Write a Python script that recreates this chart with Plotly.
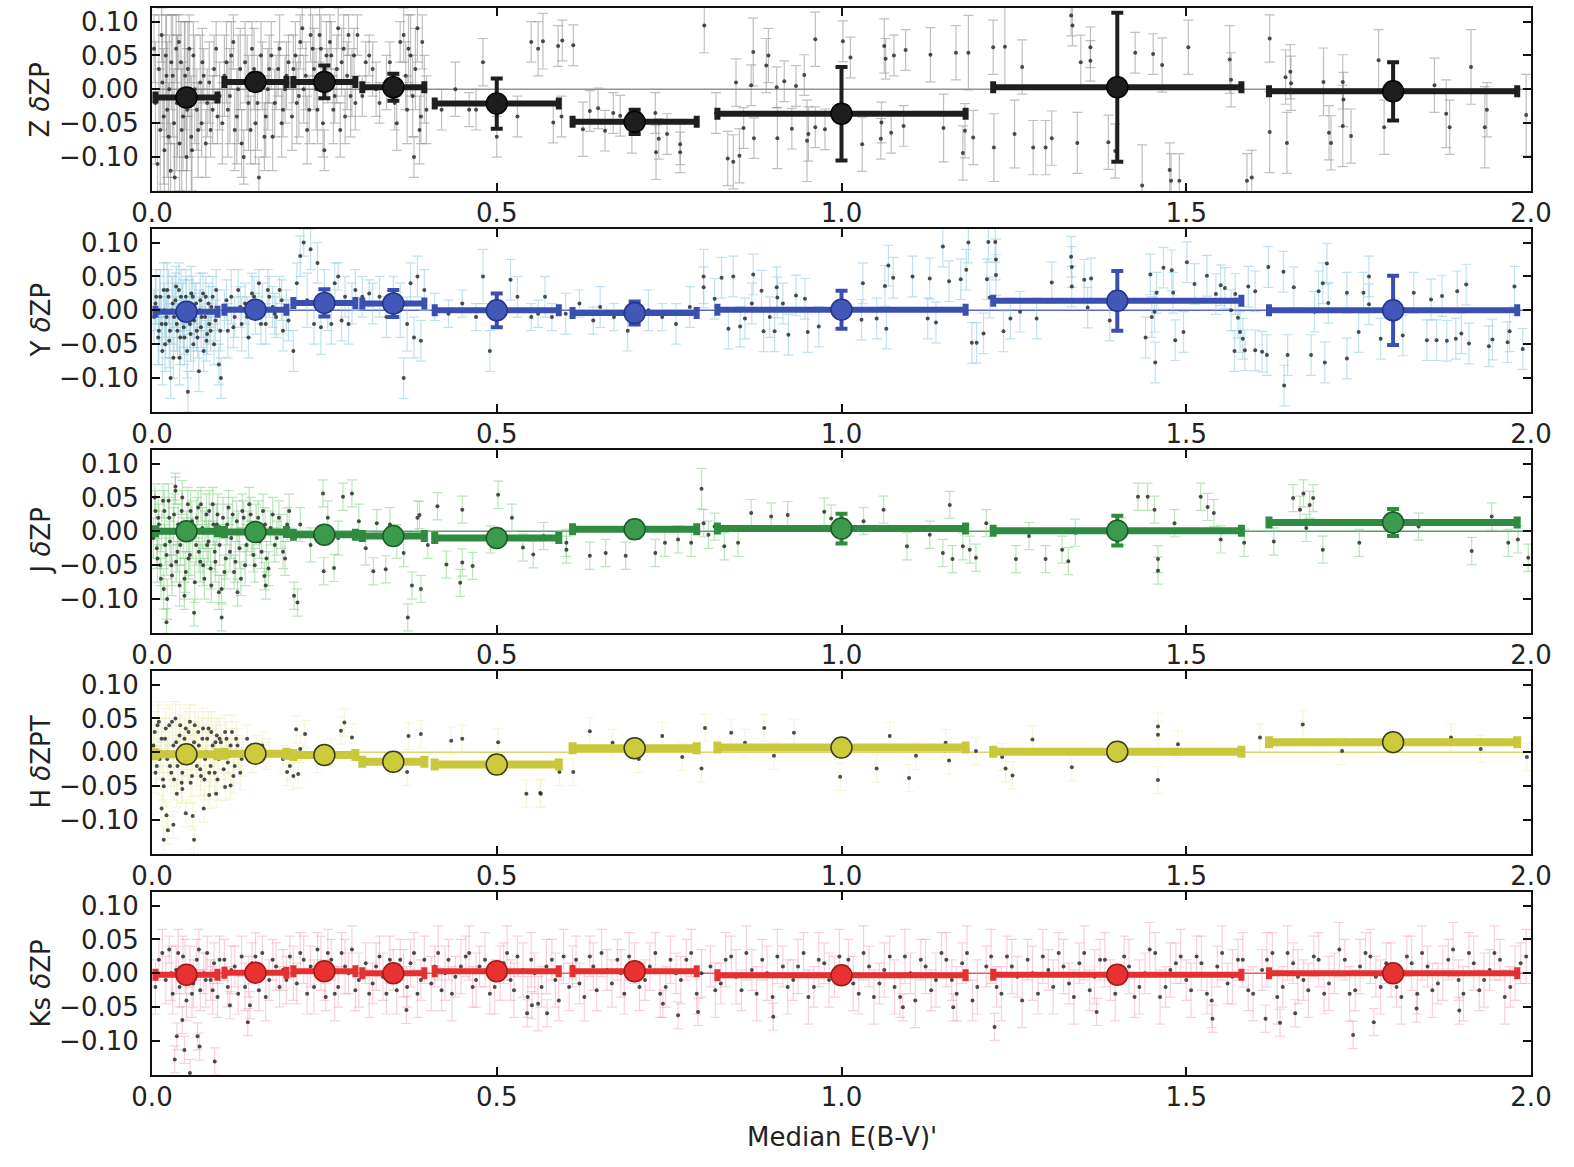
import plotly.graph_objects as go

# ---------------- data ----------------
bin_x = [0.05, 0.15, 0.25, 0.35, 0.5, 0.7, 1.0, 1.4, 1.8]
bin_xerr = [0.045, 0.045, 0.045, 0.045, 0.09, 0.09, 0.18, 0.18, 0.18]

Z_bin = [-0.012, 0.011, 0.011, 0.003, -0.021, -0.048, -0.036, 0.003, -0.003]
Z_bin_err = [0.010, 0.012, 0.024, 0.020, 0.037, 0.018, 0.069, 0.110, 0.043]
Y_bin = [-0.002, 0.001, 0.011, 0.010, 0.000, -0.004, 0.001, 0.014, 0.000]
Y_bin_err = [0.006, 0.006, 0.020, 0.020, 0.025, 0.017, 0.028, 0.044, 0.051]
J_bin = [0.000, -0.001, -0.005, -0.007, -0.010, 0.003, 0.004, 0.001, 0.013]
J_bin_err = [0.004, 0.004, 0.005, 0.005, 0.006, 0.012, 0.022, 0.022, 0.020]
H_bin = [-0.003, -0.002, -0.004, -0.014, -0.018, 0.006, 0.007, 0.001, 0.015]
H_bin_err = [0.012, 0.006, 0.006, 0.006, 0.012, 0.006, 0.008, 0.008, 0.006]
K_bin = [-0.002, 0.001, 0.003, 0.000, 0.003, 0.003, -0.003, -0.002, 0.000]
K_bin_err = [0.004, 0.004, 0.004, 0.004, 0.004, 0.004, 0.004, 0.004, 0.004]

# individual fields: (E(B-V), dZP, error)
Z_pts = [
    (0.005,-0.02,0.09),(0.01,0.03,0.08),(0.012,-0.06,0.09),(0.015,0.01,0.07),(0.018,-0.09,0.08),
    (0.02,0.05,0.06),(0.022,-0.03,0.10),(0.025,0.0,0.08),(0.027,-0.12,0.07),(0.03,0.02,0.09),
    (0.032,-0.05,0.08),(0.035,0.06,0.05),(0.037,-0.01,0.09),(0.04,-0.08,0.07),(0.042,0.04,0.06),
    (0.045,-0.04,0.08),(0.047,0.0,0.10),(0.05,-0.10,0.06),(0.052,0.03,0.07),(0.055,-0.02,0.08),
    (0.057,-0.07,0.09),(0.06,0.05,0.05),(0.065,-0.03,0.06),(0.07,0.01,0.07),(0.072,-0.05,0.05),
    (0.075,0.02,0.04),(0.08,-0.02,0.05),(0.085,-0.06,0.04),(0.09,0.03,0.05),(0.095,-0.04,0.04),
    (0.105,0.02,0.06),(0.11,-0.03,0.07),(0.115,0.05,0.05),(0.12,-0.06,0.06),(0.125,0.0,0.08),
    (0.13,-0.08,0.05),(0.135,0.04,0.06),(0.14,-0.02,0.07),(0.145,0.06,0.04),(0.15,-0.05,0.06),
    (0.155,-0.13,0.03),(0.16,0.02,0.05),(0.165,-0.04,0.06),(0.17,0.03,0.05),(0.175,-0.07,0.05),
    (0.18,0.01,0.04),(0.185,0.06,0.05),(0.19,-0.03,0.04),(0.195,0.02,0.05),
    (0.205,0.03,0.05),(0.21,-0.02,0.06),(0.215,0.07,0.04),(0.22,0.0,0.05),(0.225,-0.06,0.05),
    (0.23,0.08,0.04),(0.235,0.03,0.06),(0.24,-0.03,0.05),(0.245,0.06,0.05),(0.25,-0.09,0.03),
    (0.255,0.02,0.04),(0.26,0.05,0.05),(0.265,-0.01,0.04),(0.27,0.09,0.03),(0.275,0.04,0.05),
    (0.28,-0.04,0.04),(0.285,0.08,0.03),(0.29,0.01,0.05),(0.295,-0.02,0.04),
    (0.31,0.04,0.03),(0.32,0.03,0.04),(0.33,-0.02,0.03),(0.34,0.01,0.04),(0.355,-0.05,0.04),
    (0.36,0.07,0.03),(0.365,0.08,0.04),(0.37,-0.03,0.05),(0.375,0.05,0.06),(0.38,-0.10,0.03),
    (0.385,0.09,0.05),(0.39,-0.04,0.04),(0.395,0.0,0.05),
    (0.003,0.06,0.05),(0.008,-0.11,0.06),(0.014,0.08,0.04),(0.017,-0.04,0.10),(0.021,0.02,0.09),
    (0.024,-0.07,0.08),(0.028,0.04,0.07),(0.033,-0.13,0.05),(0.036,-0.02,0.1),(0.039,0.07,0.04),
    (0.043,-0.06,0.09),(0.048,0.02,0.08),(0.051,-0.03,0.09),(0.054,0.06,0.05),(0.058,-0.09,0.06),
    (0.062,0.0,0.08),(0.067,-0.06,0.07),(0.073,0.04,0.05),(0.078,-0.08,0.05),(0.083,0.01,0.06),
    (0.088,-0.03,0.05),(0.093,0.06,0.04),(0.098,-0.01,0.05),
    (0.102,-0.05,0.06),(0.108,0.04,0.06),(0.113,-0.01,0.07),(0.118,0.07,0.04),(0.123,-0.04,0.07),
    (0.128,0.03,0.06),(0.133,-0.1,0.04),(0.138,0.01,0.07),(0.143,-0.06,0.05),(0.148,0.03,0.06),
    (0.153,-0.02,0.07),(0.158,0.05,0.05),(0.163,-0.07,0.05),(0.168,0.0,0.06),(0.173,0.05,0.05),
    (0.178,-0.02,0.05),(0.183,0.03,0.04),(0.188,-0.05,0.05),(0.193,0.0,0.05),(0.198,0.04,0.04),
    (0.203,-0.04,0.05),(0.208,0.05,0.05),(0.213,-0.01,0.06),(0.218,0.09,0.03),(0.223,0.02,0.05),
    (0.228,-0.03,0.05),(0.233,0.06,0.05),(0.238,0.0,0.06),(0.243,0.08,0.04),(0.248,-0.05,0.05),
    (0.253,0.05,0.05),(0.258,0.07,0.04),(0.263,-0.03,0.05),(0.268,0.03,0.05),(0.273,-0.06,0.04),
    (0.278,0.06,0.05),(0.283,0.02,0.05),(0.288,-0.01,0.06),(0.293,0.05,0.04),(0.298,0.08,0.03),
    (0.305,-0.01,0.03),(0.315,0.05,0.03),(0.325,0.0,0.04),(0.345,0.04,0.03),(0.352,-0.02,0.04),
    (0.368,0.02,0.05),(0.372,0.06,0.05),(0.378,-0.01,0.06),(0.382,0.03,0.06),(0.388,-0.06,0.05),
    (0.392,0.07,0.04),(0.398,-0.03,0.05),
    (0.42,-0.03,0.03),(0.44,0.0,0.04),(0.46,-0.03,0.025),(0.47,-0.03,0.03),(0.48,0.04,0.035),
    (0.5,-0.07,0.03),(0.53,-0.04,0.03),(0.55,0.07,0.03),(0.56,0.06,0.04),(0.567,0.071,0.041),
    (0.589,0.064,0.03),(0.595,0.072,0.03),(0.611,0.065,0.03),(0.582,-0.049,0.03),(0.594,-0.04,0.03),
    (0.625,-0.059,0.04),(0.635,-0.032,0.03),(0.647,-0.028,0.03),(0.657,-0.061,0.03),(0.669,-0.035,0.03),
    (0.679,-0.039,0.03),(0.696,-0.064,0.03),(0.730,-0.035,0.03),(0.735,-0.073,0.03),(0.731,-0.093,0.04),
    (0.747,-0.066,0.03),(0.766,-0.081,0.03),(0.766,-0.093,0.03),(0.801,0.094,0.04),(0.818,-0.035,0.03),
    (0.835,-0.102,0.04),(0.843,-0.107,0.04),(0.847,0.01,0.035),(0.852,-0.098,0.04),(0.858,-0.057,0.03),
    (0.869,0.006,0.03),(0.872,0.055,0.05),(0.873,-0.072,0.03),(0.891,0.035,0.04),(0.894,0.05,0.04),
    (0.906,0.003,0.03),(0.907,-0.072,0.045),(0.917,0.012,0.03),(0.928,-0.058,0.03),(0.934,0.005,0.03),
    (0.946,0.021,0.03),(0.950,-0.076,0.06),(0.952,-0.066,0.04),(0.962,0.074,0.04),(0.962,-0.056,0.03),
    (0.976,-0.059,0.03),(1.002,0.071,0.03),(1.013,0.047,0.03),(1.030,-0.081,0.04),(1.057,-0.073,0.03),
    (1.058,-0.049,0.03),(1.062,0.064,0.04),(1.064,0.045,0.03),(1.072,-0.064,0.03),(1.076,0.05,0.03),
    (1.090,-0.054,0.03),(1.093,0.058,0.03),(1.129,0.051,0.04),(1.148,-0.057,0.05),(1.166,0.054,0.04),
    (1.176,-0.094,0.04),(1.179,-0.061,0.04),(1.184,0.054,0.055),(1.191,-0.071,0.04),(1.220,0.062,0.04),
    (1.221,-0.086,0.05),(1.237,0.063,0.06),(1.251,-0.066,0.05),(1.262,0.033,0.04),(1.278,-0.086,0.04),
    (1.296,-0.086,0.04),(1.305,-0.072,0.04),(1.333,0.109,0.03),(1.335,0.094,0.03),(1.347,0.040,0.04),
    (1.361,0.062,0.03),(1.361,0.042,0.03),(1.342,-0.079,0.045),(1.387,-0.078,0.04),(1.397,-0.091,0.04),
    (1.426,0.054,0.03),(1.436,-0.142,0.06),(1.452,0.052,0.03),(1.465,0.036,0.04),(1.476,-0.119,0.04),
    (1.478,-0.135,0.04),(1.490,-0.135,0.04),(1.503,0.062,0.04),(1.563,0.044,0.05),(1.565,0.014,0.04),
    (1.588,-0.135,0.04),(1.595,-0.130,0.04),(1.621,0.075,0.035),(1.621,-0.063,0.06),(1.644,0.018,0.04),
    (1.646,-0.079,0.045),(1.651,0.026,0.04),(1.652,0.009,0.04),(1.699,0.011,0.05),(1.707,-0.064,0.04),
    (1.710,-0.079,0.04),(1.727,0.011,0.04),(1.728,-0.015,0.04),(1.727,-0.054,0.06),(1.739,-0.069,0.04),
    (1.779,0.043,0.045),(1.787,-0.056,0.04),(1.860,0.006,0.04),(1.877,-0.036,0.05),(1.882,-0.056,0.04),
    (1.913,0.033,0.055),(1.933,-0.056,0.06),(1.936,-0.030,0.04),(1.993,-0.038,0.06),
]

Y_pts = [
    (0.005,0.01,0.04),(0.01,-0.03,0.05),(0.012,0.02,0.04),(0.015,-0.06,0.05),(0.018,0.0,0.04),
    (0.02,-0.02,0.05),(0.022,0.03,0.04),(0.025,-0.045,0.04),(0.027,-0.1,0.03),(0.03,0.01,0.04),
    (0.032,-0.01,0.05),(0.035,0.035,0.03),(0.037,-0.03,0.04),(0.04,-0.07,0.04),(0.042,0.02,0.04),
    (0.045,-0.005,0.05),(0.047,-0.04,0.04),(0.05,0.01,0.04),(0.052,-0.12,0.03),(0.055,-0.02,0.04),
    (0.057,0.025,0.04),(0.06,-0.05,0.04),(0.062,0.0,0.04),(0.065,-0.03,0.03),(0.068,-0.09,0.03),
    (0.07,0.015,0.04),(0.072,-0.01,0.03),(0.075,-0.06,0.03),(0.078,0.02,0.03),(0.08,-0.035,0.03),
    (0.083,-0.02,0.03),(0.086,0.005,0.03),(0.09,-0.05,0.03),(0.093,0.03,0.03),(0.097,-0.08,0.03),
    (0.003,-0.01,0.04),(0.006,0.02,0.04),(0.009,-0.04,0.04),(0.011,0.0,0.05),(0.014,-0.02,0.04),
    (0.017,0.03,0.04),(0.019,-0.05,0.04),(0.021,-0.01,0.04),(0.024,0.02,0.04),(0.026,-0.03,0.04),
    (0.029,0.0,0.05),(0.031,-0.07,0.03),(0.034,0.015,0.04),(0.036,-0.02,0.04),(0.039,0.03,0.04),
    (0.041,-0.04,0.04),(0.044,0.0,0.04),(0.046,-0.025,0.04),(0.049,0.02,0.04),(0.051,-0.06,0.04),
    (0.054,0.005,0.04),(0.056,-0.035,0.04),(0.059,0.02,0.03),(0.061,-0.015,0.04),(0.064,0.01,0.03),
    (0.066,-0.04,0.03),(0.069,0.0,0.03),(0.071,-0.025,0.03),(0.074,0.025,0.03),(0.077,-0.01,0.03),
    (0.079,-0.045,0.03),(0.082,0.01,0.03),(0.085,-0.03,0.03),(0.088,0.02,0.03),(0.092,-0.015,0.03),
    (0.095,0.0,0.03),(0.099,-0.03,0.03),
    (0.1,-0.1,0.03),(0.105,0.0,0.03),(0.11,-0.03,0.04),(0.115,0.02,0.04),(0.12,-0.01,0.03),
    (0.125,0.03,0.03),(0.13,-0.02,0.04),(0.135,0.01,0.03),(0.14,-0.04,0.03),(0.145,0.025,0.03),
    (0.15,-0.005,0.03),(0.155,0.04,0.02),(0.16,0.01,0.03),(0.165,-0.02,0.03),(0.17,0.02,0.03),
    (0.175,0.005,0.03),(0.18,-0.01,0.03),(0.185,0.03,0.02),(0.19,-0.03,0.03),(0.195,0.0,0.03),
    (0.108,0.015,0.03),(0.118,-0.025,0.03),(0.128,0.005,0.03),(0.138,-0.01,0.03),(0.148,0.02,0.03),
    (0.158,-0.02,0.03),(0.168,0.03,0.03),(0.178,-0.005,0.03),(0.188,0.015,0.03),(0.198,-0.015,0.03),
    (0.205,-0.06,0.03),(0.21,0.04,0.03),(0.215,0.08,0.03),(0.22,0.1,0.02),(0.225,0.015,0.04),
    (0.23,0.09,0.03),(0.235,-0.02,0.03),(0.24,0.07,0.03),(0.245,-0.025,0.04),(0.25,0.03,0.03),
    (0.255,0.0,0.03),(0.26,-0.02,0.03),(0.265,0.04,0.03),(0.27,0.05,0.02),(0.275,-0.015,0.03),
    (0.28,0.02,0.03),(0.285,-0.02,0.03),(0.29,0.01,0.03),(0.295,0.03,0.03),
    (0.305,0.02,0.03),(0.315,0.025,0.02),(0.32,0.01,0.03),(0.33,0.02,0.03),(0.34,-0.01,0.03),
    (0.35,0.02,0.03),(0.36,0.0,0.04),(0.365,-0.1,0.03),(0.37,-0.02,0.04),(0.375,0.04,0.03),
    (0.38,-0.04,0.03),(0.385,0.05,0.03),(0.39,-0.045,0.03),(0.395,0.03,0.03),
    (0.41,0.005,0.02),(0.43,-0.005,0.02),(0.45,0.01,0.02),(0.47,-0.01,0.02),(0.48,0.05,0.04),
    (0.49,-0.06,0.03),(0.52,0.045,0.03),(0.53,0.02,0.03),(0.55,-0.01,0.02),(0.56,-0.005,0.02),
    (0.57,0.02,0.03),(0.58,-0.01,0.02),(0.6,-0.005,0.03),(0.62,0.01,0.02),(0.64,-0.015,0.02),
    (0.65,0.005,0.03),(0.67,-0.01,0.02),(0.69,-0.03,0.03),(0.72,0.0,0.03),(0.74,-0.01,0.02),
    (0.76,-0.02,0.03),(0.78,0.005,0.03),
    (0.80,0.05,0.04),(0.80,0.034,0.03),(0.816,0.017,0.03),(0.826,0.048,0.03),(0.843,0.05,0.03),
    (0.836,-0.027,0.03),(0.853,-0.024,0.03),(0.860,-0.012,0.03),(0.870,0.01,0.03),(0.872,0.053,0.03),
    (0.884,0.029,0.03),(0.887,-0.031,0.03),(0.896,-0.01,0.03),(0.903,-0.031,0.03),(0.906,0.034,0.03),
    (0.907,0.019,0.03),(0.915,0.01,0.03),(0.923,-0.036,0.03),(0.934,0.022,0.03),(0.947,0.017,0.03),
    (0.951,-0.032,0.03),(0.967,-0.024,0.03),(1.031,0.04,0.03),(1.029,-0.014,0.03),(1.051,-0.012,0.03),
    (1.063,0.036,0.03),(1.068,0.066,0.03),(1.075,0.048,0.03),(1.065,-0.027,0.03),(1.103,0.05,0.03),
    (1.125,-0.012,0.03),(1.128,0.047,0.03),(1.137,-0.018,0.03),(1.147,0.094,0.03),(1.156,0.043,0.03),
    (1.173,0.046,0.03),(1.181,0.06,0.03),(1.184,0.1,0.03),(1.189,-0.048,0.03),(1.196,-0.048,0.03),
    (1.206,-0.034,0.03),(1.213,0.101,0.03),(1.215,0.019,0.03),(1.223,0.101,0.03),(1.224,0.075,0.03),
    (1.211,0.046,0.03),(1.224,0.052,0.03),(1.235,-0.031,0.03),(1.245,-0.012,0.03),(1.259,-0.002,0.03),
    (1.283,-0.012,0.03),(1.305,0.041,0.03),(1.333,0.079,0.03),(1.334,0.064,0.03),(1.334,0.035,0.03),
    (1.352,0.045,0.03),(1.362,0.047,0.03),(1.357,0.004,0.03),(1.389,-0.015,0.03),(1.441,-0.040,0.03),
    (1.448,0.053,0.03),(1.450,-0.01,0.03),(1.454,-0.002,0.03),(1.455,-0.077,0.03),(1.457,0.026,0.03),
    (1.467,0.063,0.03),(1.479,0.059,0.03),(1.484,-0.044,0.03),(1.481,0.026,0.03),(1.496,-0.032,0.03),
    (1.501,0.071,0.03),(1.512,0.039,0.03),(1.530,0.051,0.03),(1.543,0.024,0.03),(1.550,0.037,0.03),
    (1.556,0.033,0.03),(1.571,0.024,0.03),(1.565,0.0,0.03),(1.575,-0.011,0.03),(1.578,-0.032,0.03),
    (1.582,-0.042,0.03),(1.570,-0.06,0.03),(1.585,-0.059,0.03),(1.590,0.035,0.03),(1.600,0.028,0.03),
    (1.600,-0.059,0.03),(1.610,-0.061,0.03),(1.617,-0.066,0.03),(1.619,0.064,0.03),(1.641,0.057,0.03),
    (1.642,-0.111,0.03),(1.647,-0.066,0.03),(1.656,0.034,0.03),(1.681,-0.066,0.03),(1.686,-0.002,0.03),
    (1.692,0.028,0.03),(1.698,0.04,0.03),(1.701,-0.077,0.03),(1.704,0.069,0.03),(1.706,0.011,0.03),
    (1.733,0.026,0.03),(1.733,-0.071,0.03),(1.750,-0.032,0.03),(1.757,0.026,0.03),(1.765,0.009,0.03),
    (1.765,0.05,0.03),(1.782,-0.042,0.03),(1.814,-0.037,0.03),(1.830,0.026,0.03),(1.849,-0.044,0.03),
    (1.855,0.016,0.03),(1.863,-0.044,0.03),(1.871,0.021,0.03),(1.878,-0.045,0.03),(1.891,-0.042,0.03),
    (1.893,0.028,0.03),(1.899,-0.034,0.03),(1.906,0.038,0.03),(1.910,-0.049,0.03),(1.939,-0.053,0.03),
    (1.944,-0.043,0.03),(1.966,-0.047,0.03),(1.969,-0.031,0.03),(1.976,0.035,0.03),(1.988,-0.057,0.03),
]

J_pts = [
    (0.005,0.03,0.03),(0.008,-0.04,0.035),(0.01,0.01,0.03),(0.013,-0.07,0.03),(0.016,0.045,0.025),
    (0.019,-0.02,0.03),(0.022,-0.1,0.03),(0.025,0.02,0.03),(0.028,-0.05,0.03),(0.031,0.0,0.035),
    (0.034,0.06,0.02),(0.037,-0.03,0.03),(0.04,-0.08,0.03),(0.043,0.03,0.03),(0.046,-0.01,0.03),
    (0.049,-0.06,0.03),(0.052,0.04,0.025),(0.055,-0.035,0.03),(0.058,0.015,0.03),(0.061,-0.12,0.02),
    (0.064,-0.02,0.03),(0.067,0.035,0.025),(0.07,-0.045,0.03),(0.073,0.005,0.03),(0.076,-0.07,0.03),
    (0.079,0.025,0.03),(0.082,-0.015,0.03),(0.085,-0.055,0.03),(0.088,0.04,0.025),(0.091,-0.03,0.03),
    (0.094,0.01,0.03),(0.097,-0.09,0.025),(0.103,0.02,0.03),(0.107,-0.04,0.03),(0.111,0.035,0.025),
    (0.115,-0.01,0.03),(0.119,-0.06,0.025),(0.123,0.015,0.03),(0.127,-0.025,0.03),(0.131,0.03,0.025),
    (0.135,-0.05,0.03),(0.139,0.0,0.03),(0.143,0.025,0.025),(0.147,-0.035,0.025),(0.151,0.01,0.03),
    (0.156,-0.015,0.025),(0.161,0.03,0.025),(0.166,-0.04,0.025),(0.172,0.005,0.025),(0.178,-0.02,0.025),
    (0.184,0.02,0.025),(0.19,-0.03,0.025),(0.196,0.01,0.025),
    (0.002,-0.01,0.03),(0.004,0.05,0.02),(0.007,-0.025,0.03),(0.009,0.02,0.03),(0.012,-0.05,0.03),
    (0.014,0.0,0.03),(0.017,-0.085,0.03),(0.018,0.03,0.03),(0.021,-0.035,0.03),(0.024,0.045,0.025),
    (0.026,-0.015,0.03),(0.029,-0.065,0.03),(0.032,0.025,0.03),(0.035,-0.045,0.03),(0.038,0.01,0.03),
    (0.041,-0.02,0.03),(0.044,0.05,0.025),(0.047,-0.07,0.03),(0.05,0.0,0.03),(0.053,-0.04,0.03),
    (0.056,0.03,0.03),(0.059,-0.01,0.03),(0.062,-0.075,0.03),(0.065,0.02,0.03),(0.068,-0.03,0.03),
    (0.071,0.04,0.025),(0.074,-0.05,0.03),(0.077,0.0,0.03),(0.08,-0.02,0.03),(0.083,0.03,0.03),
    (0.086,-0.08,0.025),(0.089,0.01,0.03),(0.092,-0.045,0.03),(0.095,0.025,0.03),(0.098,-0.02,0.03),
    (0.105,-0.06,0.025),(0.109,0.01,0.03),(0.113,-0.03,0.03),(0.117,0.025,0.025),(0.121,-0.045,0.03),
    (0.125,0.0,0.03),(0.129,-0.07,0.025),(0.133,0.02,0.025),(0.137,-0.02,0.03),(0.141,0.04,0.025),
    (0.145,-0.01,0.025),(0.149,-0.05,0.025),(0.154,0.02,0.025),(0.159,-0.03,0.025),(0.164,0.01,0.025),
    (0.169,-0.055,0.025),(0.175,0.025,0.025),(0.181,-0.01,0.025),(0.187,0.0,0.025),(0.193,-0.04,0.025),
    (0.199,0.03,0.025),
    (0.034,0.066,0.02),(0.047,-0.095,0.02),(0.021,-0.134,0.02),(0.101,-0.127,0.02),(0.101,-0.085,0.02),
    (0.124,-0.09,0.02),(0.163,-0.066,0.02),(0.165,-0.08,0.02),(0.206,-0.095,0.02),(0.211,-0.105,0.02),
    (0.248,0.056,0.02),(0.277,0.051,0.02),(0.29,0.056,0.02),(0.249,-0.059,0.02),(0.264,-0.054,0.02),
    (0.321,-0.059,0.02),(0.339,-0.056,0.02),(0.371,-0.127,0.02),(0.377,-0.08,0.02),(0.390,-0.085,0.02),
    (0.365,-0.032,0.02),(0.414,0.037,0.02),(0.427,-0.049,0.02),(0.447,-0.076,0.02),(0.45,-0.046,0.02),
    (0.465,-0.051,0.02),(0.502,0.054,0.02),(0.491,-0.012,0.02),(0.538,-0.024,0.02),(0.553,-0.034,0.02),
    (0.522,0.02,0.02),(0.45,0.032,0.02),(0.388,0.024,0.02),(0.326,0.012,0.02),
    (0.215,0.01,0.025),(0.23,-0.02,0.025),(0.255,0.02,0.025),(0.27,-0.01,0.025),(0.3,0.015,0.025),
    (0.31,-0.025,0.025),(0.345,0.01,0.025),(0.355,-0.015,0.025),(0.385,0.02,0.025),(0.4,-0.02,0.02),
    (0.568,-0.007,0.02),(0.601,-0.017,0.02),(0.601,-0.027,0.02),(0.635,-0.036,0.02),(0.658,-0.032,0.02),
    (0.687,-0.036,0.02),(0.730,-0.032,0.02),(0.744,-0.017,0.02),(0.763,-0.012,0.02),(0.782,-0.017,0.02),
    (0.797,0.063,0.03),(0.800,0.012,0.02),(0.807,-0.005,0.02),(0.816,0.007,0.02),(0.830,-0.022,0.02),
    (0.850,-0.017,0.02),(0.869,0.027,0.02),(0.898,0.022,0.02),(0.922,0.024,0.02),(0.975,0.029,0.02),
    (0.985,0.019,0.02),(1.032,0.015,0.02),(1.061,0.032,0.02),(1.095,-0.022,0.02),(1.128,-0.005,0.02),
    (1.147,-0.032,0.02),(1.157,0.039,0.02),(1.161,-0.041,0.02),(1.176,-0.022,0.02),(1.186,-0.027,0.02),
    (1.195,-0.039,0.02),(1.210,0.012,0.02),(1.253,-0.041,0.02),(1.272,-0.007,0.02),(1.296,-0.041,0.02),
    (1.320,-0.027,0.02),(1.329,-0.044,0.02),(1.339,-0.002,0.02),(1.406,0.0,0.02),(1.430,0.051,0.02),
    (1.444,0.051,0.02),(1.454,0.032,0.02),(1.459,-0.041,0.02),(1.459,-0.058,0.02),(1.483,0.012,0.02),
    (1.521,0.051,0.02),(1.531,0.036,0.02),(1.540,0.027,0.02),(1.550,-0.012,0.02),(1.584,-0.017,0.02),
    (1.627,-0.015,0.02),(1.655,0.049,0.02),(1.665,0.032,0.02),(1.670,0.056,0.02),(1.679,0.039,0.02),
    (1.684,0.049,0.02),(1.674,0.005,0.02),(1.698,-0.027,0.02),(1.751,-0.017,0.02),(1.837,0.007,0.02),
    (1.914,-0.029,0.02),(1.943,0.022,0.02),(1.967,-0.017,0.02),(1.981,-0.012,0.02),(1.996,-0.039,0.02),
]

H_pts = [
    (0.004,0.03,0.03),(0.007,-0.02,0.03),(0.01,0.045,0.03),(0.013,0.0,0.03),(0.016,-0.04,0.03),
    (0.019,0.02,0.03),(0.022,-0.01,0.03),(0.025,0.04,0.03),(0.028,-0.03,0.03),(0.031,0.01,0.03),
    (0.034,0.05,0.025),(0.037,-0.02,0.03),(0.04,0.025,0.03),(0.043,-0.045,0.03),(0.046,0.005,0.03),
    (0.049,0.035,0.03),(0.052,-0.015,0.03),(0.055,0.045,0.025),(0.058,-0.035,0.03),(0.061,0.015,0.03),
    (0.064,-0.005,0.03),(0.067,0.03,0.03),(0.07,-0.025,0.03),(0.073,0.02,0.03),(0.076,-0.04,0.03),
    (0.079,0.0,0.03),(0.082,0.035,0.025),(0.085,-0.02,0.03),(0.088,0.01,0.03),(0.091,-0.03,0.03),
    (0.094,0.025,0.025),(0.097,-0.01,0.03),(0.1,0.015,0.025),(0.104,-0.025,0.025),(0.108,0.02,0.025),
    (0.112,-0.005,0.025),(0.116,0.03,0.025),(0.12,-0.02,0.025),(0.124,0.01,0.025),(0.128,-0.03,0.025),
    (0.002,0.01,0.03),(0.005,-0.03,0.03),(0.008,0.04,0.03),(0.011,-0.01,0.03),(0.014,0.02,0.03),
    (0.017,-0.05,0.03),(0.02,0.035,0.03),(0.023,0.0,0.03),(0.026,-0.02,0.03),(0.029,0.045,0.03),
    (0.032,-0.04,0.03),(0.035,0.015,0.03),(0.038,-0.01,0.03),(0.041,0.04,0.03),(0.044,-0.03,0.03),
    (0.047,0.02,0.03),(0.05,-0.005,0.03),(0.053,0.03,0.03),(0.056,-0.045,0.03),(0.059,0.005,0.03),
    (0.062,0.04,0.03),(0.065,-0.02,0.03),(0.068,0.01,0.03),(0.071,-0.035,0.03),(0.074,0.035,0.03),
    (0.077,-0.01,0.03),(0.08,0.02,0.03),(0.083,-0.03,0.03),(0.086,0.03,0.03),(0.089,-0.005,0.03),
    (0.092,0.015,0.03),(0.095,-0.04,0.03),(0.098,0.02,0.03),(0.102,0.0,0.025),(0.106,0.03,0.025),
    (0.11,-0.015,0.025),(0.114,0.01,0.025),(0.118,-0.035,0.025),(0.122,0.02,0.025),(0.126,0.0,0.025),
    (0.13,-0.01,0.025),
    (0.133,0.0,0.02),(0.138,0.02,0.02),(0.145,-0.01,0.02),(0.152,0.005,0.02),(0.16,0.01,0.02),
    (0.165,-0.005,0.02),(0.17,0.0,0.02),(0.19,-0.01,0.02),(0.2,-0.02,0.02),(0.205,-0.035,0.02),
    (0.215,0.005,0.02),(0.24,-0.01,0.02),(0.26,0.0,0.02),
    (0.014,-0.083,0.02),(0.021,-0.093,0.02),(0.031,-0.107,0.02),(0.017,-0.129,0.02),(0.023,-0.115,0.02),
    (0.061,-0.129,0.02),(0.049,-0.09,0.02),(0.059,-0.094,0.02),(0.075,-0.083,0.02),(0.083,-0.063,0.02),
    (0.093,-0.061,0.02),(0.106,-0.051,0.02),(0.114,-0.049,0.02),(0.036,-0.061,0.02),(0.044,-0.054,0.02),
    (0.209,0.034,0.02),(0.222,0.027,0.02),(0.212,-0.032,0.02),(0.196,-0.029,0.02),(0.274,0.032,0.02),
    (0.279,0.044,0.02),(0.290,0.022,0.02),(0.372,0.024,0.02),(0.390,0.027,0.02),(0.370,-0.029,0.02),
    (0.434,0.017,0.02),(0.450,0.02,0.02),(0.502,0.015,0.02),(0.543,-0.061,0.02),(0.564,-0.061,0.02),
    (0.563,-0.06,0.02),(0.591,-0.029,0.02),(0.611,-0.029,0.02),(0.635,0.031,0.02),(0.668,0.014,0.02),
    (0.706,-0.01,0.02),(0.740,0.024,0.02),(0.769,-0.007,0.02),(0.797,-0.024,0.02),(0.802,0.036,0.02),
    (0.840,0.029,0.02),(0.860,0.014,0.02),(0.888,0.036,0.02),(0.902,-0.005,0.02),(0.931,0.029,0.02),
    (0.998,-0.036,0.02),(1.051,-0.024,0.02),(1.070,0.024,0.02),(1.098,-0.038,0.02),(1.108,-0.005,0.02),
    (1.151,0.014,0.02),(1.156,-0.012,0.02),(1.195,0.002,0.02),(1.233,-0.007,0.02),(1.238,-0.024,0.02),
    (1.248,-0.034,0.02),(1.277,0.019,0.02),(1.334,-0.022,0.02),(1.459,0.038,0.02),(1.459,0.026,0.02),
    (1.459,-0.041,0.02),(1.488,0.012,0.02),(1.607,0.022,0.02),(1.669,0.041,0.02),(1.726,0.002,0.02),
    (1.884,0.022,0.02),(1.927,0.005,0.02),(1.994,-0.007,0.02),
]

K_pts = [
    (0.01,0.02,0.03),(0.02,-0.01,0.035),(0.025,0.035,0.02),(0.03,-0.03,0.03),(0.035,0.005,0.035),
    (0.04,-0.02,0.03),(0.045,0.025,0.03),(0.05,-0.04,0.03),(0.055,0.01,0.03),(0.06,-0.015,0.035),
    (0.065,0.02,0.03),(0.07,-0.025,0.03),(0.075,0.0,0.03),(0.08,0.03,0.025),(0.085,-0.01,0.03),
    (0.09,0.015,0.03),(0.095,-0.035,0.03),(0.105,0.02,0.03),(0.11,-0.02,0.03),(0.12,0.01,0.03),
    (0.125,-0.03,0.03),(0.13,0.025,0.03),(0.14,-0.005,0.03),(0.145,0.015,0.03),(0.155,-0.025,0.03),
    (0.16,0.03,0.025),(0.17,-0.01,0.03),(0.175,0.02,0.03),(0.185,-0.02,0.03),(0.19,0.005,0.03),
    (0.2,0.025,0.03),(0.21,-0.015,0.03),(0.215,0.03,0.03),(0.225,-0.03,0.03),(0.23,0.01,0.03),
    (0.24,0.035,0.025),(0.25,-0.01,0.03),(0.26,0.02,0.03),(0.27,-0.02,0.03),(0.275,0.03,0.03),
    (0.285,0.0,0.03),(0.295,-0.025,0.03),(0.31,0.015,0.03),(0.32,-0.015,0.03),(0.33,0.025,0.03),
    (0.34,-0.03,0.03),(0.35,0.005,0.03),(0.36,0.02,0.03),(0.37,-0.02,0.03),(0.38,0.03,0.03),
    (0.39,-0.01,0.03),(0.41,0.01,0.03),(0.42,-0.025,0.03),(0.43,0.02,0.03),(0.44,-0.005,0.03),
    (0.455,0.025,0.03),(0.465,-0.02,0.03),(0.475,0.01,0.03),(0.49,-0.03,0.03),(0.51,0.015,0.03),
    (0.52,-0.01,0.03),(0.53,0.025,0.03),(0.545,-0.035,0.03),(0.555,0.0,0.03),(0.565,-0.02,0.03),
    (0.58,0.02,0.03),(0.59,-0.04,0.03),(0.61,0.01,0.03),(0.62,-0.015,0.03),(0.635,0.025,0.03),
    (0.645,-0.025,0.03),(0.66,0.005,0.03),(0.675,0.02,0.03),(0.685,-0.03,0.03),(0.7,0.015,0.03),
    (0.715,-0.01,0.03),(0.73,0.03,0.03),(0.745,-0.02,0.03),(0.76,0.0,0.03),(0.775,0.02,0.03),
    (0.79,-0.03,0.03),(0.81,0.01,0.03),(0.825,-0.015,0.03),(0.84,0.025,0.03),(0.855,-0.025,0.03),
    (0.87,0.005,0.03),(0.885,0.02,0.03),(0.9,-0.035,0.03),(0.915,0.01,0.03),(0.93,-0.01,0.03),
    (0.945,0.03,0.03),(0.96,-0.02,0.03),(0.975,0.015,0.03),(0.99,-0.005,0.03),(1.01,0.02,0.03),
    (1.025,-0.03,0.03),(1.04,0.01,0.03),(1.055,-0.015,0.03),(1.07,0.025,0.03),(1.085,-0.035,0.03),
    (1.1,0.0,0.03),(1.115,0.02,0.03),(1.13,-0.025,0.03),(1.145,0.03,0.03),(1.16,-0.01,0.03),
    (1.175,0.015,0.03),(1.19,-0.04,0.03),(1.21,0.01,0.03),(1.225,-0.02,0.03),(1.24,0.025,0.03),
    (1.255,-0.005,0.03),(1.27,0.02,0.03),(1.285,-0.03,0.03),(1.3,0.005,0.03),(1.315,0.03,0.03),
    (1.33,-0.015,0.03),(1.345,0.015,0.03),(1.36,-0.025,0.03),(1.375,0.02,0.03),(1.39,-0.01,0.03),
    (1.41,0.025,0.03),(1.425,-0.035,0.03),(1.44,0.0,0.03),(1.455,0.03,0.03),(1.47,-0.02,0.03),
    (1.485,0.015,0.03),(1.5,-0.01,0.03),(1.515,0.025,0.03),(1.53,-0.03,0.03),(1.545,0.01,0.03),
    (1.56,-0.015,0.03),(1.575,0.02,0.03),(1.59,-0.025,0.03),(1.61,0.005,0.03),(1.625,0.03,0.03),
    (1.64,-0.02,0.03),(1.655,0.015,0.03),(1.67,-0.01,0.03),(1.685,0.025,0.03),(1.7,-0.03,0.03),
    (1.715,0.0,0.03),(1.73,0.02,0.03),(1.745,-0.025,0.03),(1.76,0.03,0.03),(1.775,-0.005,0.03),
    (1.79,0.015,0.03),(1.805,-0.02,0.03),(1.82,0.025,0.03),(1.835,-0.03,0.03),(1.85,0.01,0.03),
    (1.865,-0.015,0.03),(1.88,0.02,0.03),(1.895,-0.01,0.03),(1.91,0.03,0.03),(1.925,-0.025,0.03),
    (1.94,0.005,0.03),(1.955,0.02,0.03),(1.97,-0.02,0.03),(1.985,0.015,0.03),
    (0.005,-0.02,0.04),(0.015,0.03,0.035),(0.028,0.0,0.04),(0.038,0.03,0.035),(0.048,0.01,0.04),
    (0.058,-0.03,0.035),(0.068,0.035,0.03),(0.078,-0.01,0.04),(0.088,-0.025,0.035),(0.098,0.02,0.035),
    (0.115,0.005,0.035),(0.135,-0.02,0.035),(0.15,0.025,0.035),(0.165,-0.035,0.035),(0.18,0.01,0.035),
    (0.195,-0.01,0.035),(0.205,0.0,0.04),(0.22,0.02,0.035),(0.235,-0.02,0.04),(0.245,0.015,0.04),
    (0.255,0.03,0.035),(0.265,-0.03,0.04),(0.28,0.01,0.04),(0.29,0.035,0.035),(0.3,-0.01,0.04),
    (0.315,-0.03,0.035),(0.325,0.01,0.035),(0.335,-0.005,0.035),(0.345,0.02,0.035),(0.355,-0.025,0.035),
    (0.365,0.0,0.035),(0.375,0.015,0.035),(0.385,-0.03,0.035),(0.395,0.02,0.035),
    (0.405,-0.015,0.04),(0.415,0.03,0.04),(0.425,0.0,0.04),(0.435,-0.03,0.04),(0.448,0.01,0.04),
    (0.46,0.03,0.04),(0.47,-0.01,0.04),(0.483,0.02,0.04),(0.497,-0.02,0.04),(0.505,0.0,0.04),
    (0.515,0.03,0.04),(0.525,-0.025,0.04),(0.538,0.005,0.04),(0.55,0.02,0.04),(0.56,-0.045,0.04),
    (0.572,0.01,0.04),(0.585,-0.01,0.04),(0.597,0.025,0.04),
    (0.605,-0.02,0.035),(0.615,0.02,0.035),(0.627,-0.035,0.035),(0.64,0.01,0.035),(0.652,0.03,0.035),
    (0.667,-0.015,0.035),(0.68,0.0,0.035),(0.692,0.025,0.035),(0.707,-0.02,0.035),(0.722,0.01,0.035),
    (0.737,-0.03,0.035),(0.752,0.02,0.035),(0.767,-0.01,0.035),(0.782,0.03,0.035),(0.797,0.0,0.035),
    (0.817,-0.025,0.04),(0.832,0.02,0.04),(0.847,-0.005,0.04),(0.862,0.03,0.04),(0.877,-0.03,0.04),
    (0.892,0.0,0.04),(0.907,0.025,0.04),(0.922,-0.02,0.04),(0.937,0.01,0.04),(0.952,-0.035,0.04),
    (0.967,0.02,0.04),(0.982,-0.01,0.04),(0.997,0.025,0.04),
    (1.017,-0.015,0.04),(1.032,0.03,0.04),(1.047,-0.035,0.04),(1.062,0.005,0.04),(1.077,-0.02,0.04),
    (1.092,0.025,0.04),(1.107,-0.04,0.04),(1.122,0.01,0.04),(1.137,-0.01,0.04),(1.152,0.02,0.04),
    (1.167,-0.03,0.04),(1.182,0.03,0.04),(1.197,-0.02,0.04),
    (1.217,0.025,0.04),(1.232,-0.03,0.04),(1.247,0.01,0.04),(1.262,-0.04,0.04),(1.277,0.0,0.04),
    (1.292,0.025,0.04),(1.307,-0.02,0.04),(1.322,0.01,0.04),(1.337,-0.035,0.04),(1.352,0.03,0.04),
    (1.367,-0.005,0.04),(1.382,0.02,0.04),(1.397,-0.03,0.04),
    (1.417,0.01,0.04),(1.432,-0.02,0.04),(1.447,0.035,0.04),(1.462,-0.035,0.04),(1.477,0.005,0.04),
    (1.492,0.025,0.04),(1.507,-0.025,0.04),(1.522,0.015,0.04),(1.537,-0.04,0.04),(1.552,0.03,0.04),
    (1.567,-0.005,0.04),(1.582,0.02,0.04),(1.597,-0.03,0.04),
    (1.617,0.02,0.04),(1.632,-0.035,0.04),(1.647,0.03,0.04),(1.662,-0.005,0.04),(1.677,-0.025,0.04),
    (1.692,0.02,0.04),(1.707,-0.015,0.04),(1.722,0.035,0.04),(1.737,-0.03,0.04),(1.752,0.01,0.04),
    (1.767,0.025,0.04),(1.782,-0.02,0.04),(1.797,0.005,0.04),
    (1.812,-0.035,0.04),(1.827,0.015,0.04),(1.842,0.03,0.04),(1.857,-0.025,0.04),(1.872,0.0,0.04),
    (1.887,0.035,0.04),(1.902,-0.03,0.04),(1.917,0.015,0.04),(1.932,-0.01,0.04),(1.947,0.03,0.04),
    (1.962,-0.035,0.04),(1.977,0.0,0.04),(1.993,0.025,0.04),
    (0.033,-0.127,0.02),(0.036,-0.093,0.02),(0.044,-0.069,0.02),(0.047,-0.113,0.02),(0.055,-0.147,0.02),
    (0.066,-0.093,0.02),(0.069,-0.108,0.02),(0.091,-0.13,0.02),(0.113,-0.047,0.02),(0.139,-0.072,0.02),
    (0.142,-0.047,0.02),(0.252,-0.035,0.02),(0.369,-0.054,0.02),(0.544,-0.059,0.02),(0.551,-0.047,0.02),
    (0.573,-0.059,0.02),(0.741,-0.045,0.02),(0.763,-0.062,0.02),(0.792,-0.057,0.02),(0.901,-0.064,0.02),
    (1.089,-0.05,0.02),(1.162,-0.05,0.02),(1.222,-0.079,0.02),(1.370,-0.057,0.02),(1.538,-0.067,0.02),
    (1.615,-0.067,0.02),(1.636,-0.073,0.02),(1.658,-0.059,0.02),(1.742,-0.091,0.02),(1.772,-0.072,0.02),
    (1.834,-0.052,0.02),(1.896,-0.055,0.02),
]

panels = [
    dict(label="Z <i>δ</i>ZP", pts=Z_pts, b=Z_bin, be=Z_bin_err,
         err_c="rgba(140,140,140,0.55)", zero_c="rgba(120,120,120,0.8)",
         fill="#1e1e1e", edge="#000000", bar_c="#1e1e1e", bar_w=6),
    dict(label="Y <i>δ</i>ZP", pts=Y_pts, b=Y_bin, be=Y_bin_err,
         err_c="rgba(150,205,225,0.6)", zero_c="rgba(70,90,190,0.9)",
         fill="#4258b8", edge="#23348a", bar_c="#3a50b0", bar_w=6),
    dict(label="J <i>δ</i>ZP", pts=J_pts, b=J_bin, be=J_bin_err,
         err_c="rgba(120,205,120,0.5)", zero_c="rgba(40,140,60,0.8)",
         fill="#3c9a4c", edge="#1c5a28", bar_c="#2e8b40", bar_w=7),
    dict(label="H <i>δ</i>ZPT", pts=H_pts, b=H_bin, be=H_bin_err,
         err_c="rgba(230,230,150,0.35)", zero_c="rgba(205,205,80,0.8)",
         fill="#cccc3a", edge="#3a3a20", bar_c="#c8c83a", bar_w=8),
    dict(label="Ks <i>δ</i>ZP", pts=K_pts, b=K_bin, be=K_bin_err,
         err_c="rgba(240,150,175,0.45)", zero_c="rgba(225,50,50,0.8)",
         fill="#e83232", edge="#a01818", bar_c="#e53030", bar_w=6),
]

# ---------------- layout ----------------
W, H = 1574, 1167
FONT = "DejaVu Sans"
xd = [152 / W, 1531 / W]
panel_px = [(8, 191), (229, 412), (450, 633), (671, 854), (892, 1075)]

fig = go.Figure()
annotations = []
shapes = []
for i, p in enumerate(panels):
    n = "" if i == 0 else str(i + 1)
    xa, ya = "x" + n, "y" + n
    px_ = [t[0] for t in p["pts"]]
    py_ = [t[1] for t in p["pts"]]
    pe_ = [t[2] for t in p["pts"]]
    fig.add_trace(go.Scatter(
        x=px_, y=py_, mode="markers", xaxis=xa, yaxis=ya, showlegend=False,
        marker=dict(size=4, color="rgba(45,45,45,0.85)", line=dict(width=0)),
        error_y=dict(type="data", array=pe_, color=p["err_c"], thickness=1.2, width=5),
    ))
    fig.add_trace(go.Scatter(
        x=bin_x, y=p["b"], mode="markers", xaxis=xa, yaxis=ya, showlegend=False,
        marker=dict(size=21, color=p["fill"], line=dict(color=p["edge"], width=1.5)),
        error_x=dict(type="data", array=bin_xerr, color=p["bar_c"], thickness=p["bar_w"], width=6),
        error_y=dict(type="data", array=p["be"], color=p["bar_c"], thickness=4, width=6),
    ))
    shapes.append(dict(type="line", xref=xa + " domain", yref=ya, x0=0, x1=1, y0=0, y1=0,
                       line=dict(color=p["zero_c"], width=1.5), layer="below"))
    top, bot = panel_px[i]
    yd = [1 - bot / H, 1 - top / H]
    axis_common = dict(showline=True, linecolor="#111111", linewidth=2, mirror="ticks",
                       ticks="inside", ticklen=8, tickwidth=1.5, tickcolor="#111111",
                       showgrid=False, zeroline=False, automargin=False,
                       tickfont=dict(family=FONT, size=26, color="#222222"))
    fig.layout["xaxis" + n] = dict(domain=xd, anchor=ya, range=[0, 2.0],
                                   tickvals=[0, 0.5, 1.0, 1.5, 2.0], tickformat=".1f",
                                   ticklabelstandoff=-2, **axis_common)
    fig.layout["yaxis" + n] = dict(domain=yd, anchor=xa, range=[-0.15, 0.12],
                                   tickvals=[-0.10, -0.05, 0.0, 0.05, 0.10], tickformat=".2f",
                                   ticklabelstandoff=6, **axis_common)
    annotations.append(dict(text=p["label"], xref="paper", yref="paper",
                            x=40 / W, y=1 - (top + bot) / 2 / H, textangle=-90,
                            showarrow=False, xanchor="center", yanchor="middle",
                            font=dict(family=FONT, size=26, color="#222222")))

annotations.append(dict(text="Median E(B-V)'", xref="paper", yref="paper",
                        x=(152 + 1531) / 2 / W, y=1 - 1137 / H, showarrow=False,
                        xanchor="center", yanchor="middle",
                        font=dict(family=FONT, size=26, color="#222222")))

fig.update_layout(width=W, height=H, margin=dict(l=0, r=0, t=0, b=0, autoexpand=False),
                  paper_bgcolor="white", plot_bgcolor="white",
                  annotations=annotations, shapes=shapes,
                  font=dict(family=FONT, color="#222222"))

fig.write_html("out.html", config={"displayModeBar": False},
               post_script="document.body.style.margin='0px';document.body.style.overflow='hidden';")
